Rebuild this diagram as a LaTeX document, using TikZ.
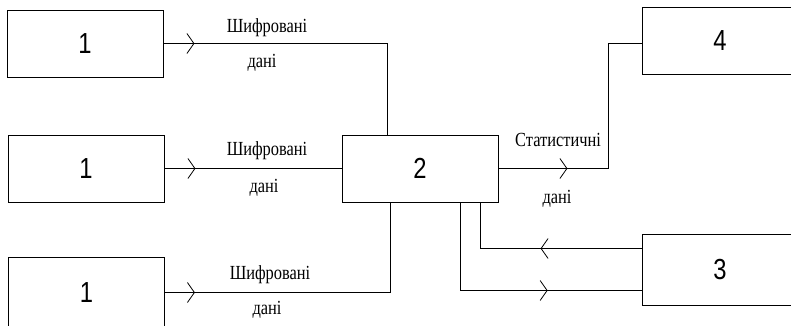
\documentclass[tikz,border=0pt]{standalone}
\usepackage{fontspec}
\setmainfont{Liberation Serif}
\newfontfamily\labelfont{Liberation Serif}
\newfontfamily\digitfont{Liberation Sans}
\newcommand{\slim}[1]{\scalebox{0.82}[1]{#1}}
\usetikzlibrary{arrows.meta,decorations.markings}
\tikzset{
  blockbox/.style={draw,line width=0.8pt,minimum width=156pt,minimum height=67pt,inner sep=0pt,font=\digitfont\fontsize{29}{29}\selectfont},
  flow/.style={line width=0.8pt},
  chev/.style={postaction=decorate,decoration={markings,mark=at position #1 with {\arrow{Straight Barb[length=7pt,width=20pt,line width=0.8pt]}}}},
  lbl/.style={font=\labelfont\fontsize{20}{20}\selectfont,inner sep=0pt}
}

\begin{document}
\begin{tikzpicture}[x=1pt,y=-1pt]
\fill[white] (0,0) rectangle (791,326); \useasboundingbox (0,0) rectangle (791,326);
\node[blockbox] (src1) at (85,43.5){\slim{1}};
\node[blockbox] (src2) at (86,168.5){\slim{1}};
\node[blockbox,minimum height=70pt] (src3) at (86.5,292.5){\slim{1}};
\node[blockbox] (proc) at (420,168.5){\slim{2}};
\node[blockbox] (stat) at (720,40.5){\slim{4}};
\node[blockbox,minimum height=71pt] (ctrl) at (720,269.5){\slim{3}};
% encrypted data into 2
\draw[flow,chev=31pt] (src1.east) -| ([xshift=-33pt]proc.north);
\draw[flow,chev=31pt] (src2.east) -- (proc.west);
\draw[flow,chev=30pt] (src3.east) -| ([xshift=-30pt]proc.south);
\node[lbl] (enc1) at (267,28){\slim{Шифровані}}; \node[lbl] (dat1) at (262,63){\slim{дані}};
\node[lbl] (enc2) at (267,151){\slim{Шифровані}}; \node[lbl] (dat2) at (264,188){\slim{дані}};
\node[lbl] (enc3) at (270,275){\slim{Шифровані}}; \node[lbl] (dat3) at (267,310){\slim{дані}};
% statistics to 4
\draw[flow,chev=69pt] (proc.east) -| ([xshift=-33pt,yshift=-2.5pt]stat.west) -- ([yshift=-2.5pt]stat.west);
\node[lbl] (stat1) at (558,140){\slim{Статистичні}}; \node[lbl] (dat4) at (557,199){\slim{дані}};
% exchange with 3
\draw[flow,chev=101pt] ([yshift=21pt]ctrl.west) -| ([xshift=60pt]proc.south);
\draw[flow,chev=-94pt] ([xshift=40pt]proc.south) |- ([yshift=-21pt]ctrl.west);
\end{tikzpicture}
\end{document}
